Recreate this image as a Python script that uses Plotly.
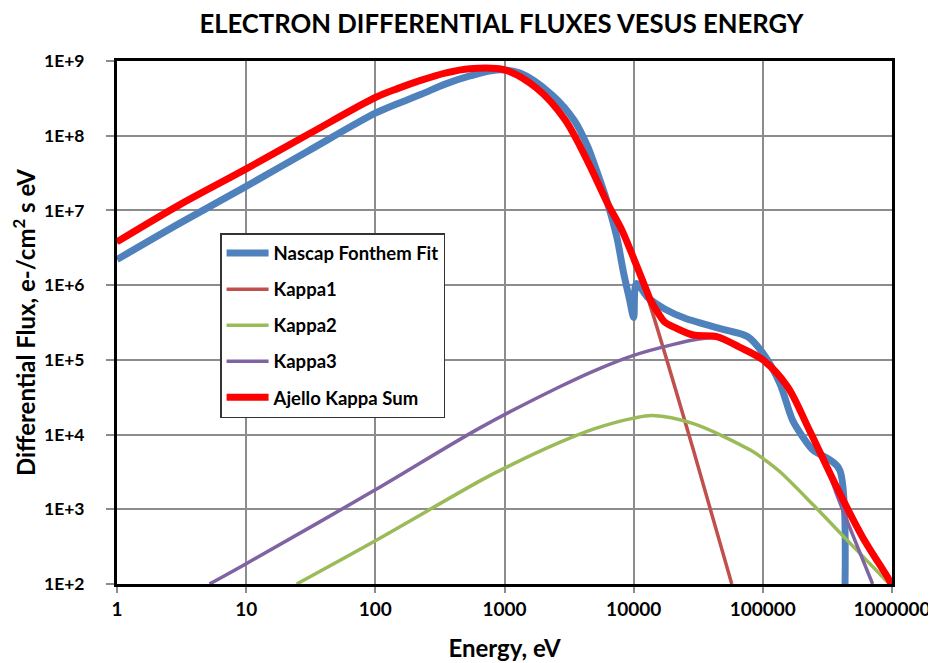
import plotly.graph_objects as go

# ---------------- data ----------------
nascap_E = [1, 3, 10, 30, 100, 150, 224, 347, 540, 870, 1320, 2340, 3470, 4370, 5000,
            6300, 7400, 8300, 9330, 10000, 10500, 12900, 17400, 25000, 52000, 76000,
            100000, 135000, 170000, 204000, 245000, 330000, 395000, 400000]
nascap_F = [2.2e6, 6.6e6, 2.1e7, 6.2e7, 2.0e8, 2.7e8, 3.55e8, 4.9e8, 6.3e8, 7.6e8,
            6.9e8, 3.5e8, 1.6e8, 7.4e7, 4.0e7, 1.23e7, 4.4e6, 1.55e6, 6.2e5, 3.7e5,
            1.05e6, 6.8e5, 4.8e5, 3.6e5, 2.5e5, 2.05e5, 1.23e5, 4.9e4, 1.55e4, 9.3e3,
            6.2e3, 4.6e3, 3.3e3, 1.0]

kappa1_E = [1, 3, 10, 31, 100, 150, 224, 347, 540, 1000, 1780, 2950, 4470, 6300, 8130,
            10200, 12900, 29000, 57500]
kappa1_F = [3.7e6, 1.15e7, 3.55e7, 1.05e8, 3.15e8, 4.2e8, 5.4e8, 6.8e8, 7.8e8, 7.5e8,
            4.2e8, 1.6e8, 4.2e7, 1.2e7, 5.3e6, 2.0e6, 6.6e5, 6.2e3, 100]

kappa2_E = [24.6, 100, 646, 1000, 2700, 5000, 10000, 14000, 29000, 80000, 100000,
            135000, 245000, 447000, 955000]
kappa2_F = [100, 380, 2400, 3550, 7900, 1.2e4, 1.66e4, 1.8e4, 1.4e4, 6.2e3, 4.8e3,
            3.2e3, 1.15e3, 390, 100]

kappa3_E = [5.2, 10, 100, 646, 2700, 5000, 10000, 20000, 32000, 44000, 66000, 100000,
            155000, 229000, 330000, 380000, 708000]
kappa3_F = [100, 187, 1820, 1.23e4, 4.4e4, 7.2e4, 1.15e5, 1.6e5, 1.9e5, 1.95e5, 1.45e5,
            9.6e4, 4.25e4, 1.12e4, 2.8e3, 1.45e3, 100]

sum_E = [1, 3, 10, 31, 100, 150, 224, 347, 540, 1000, 1780, 2950, 4470, 6300, 8130,
         10200, 12900, 13500, 15500, 17400, 20900, 29000, 44000, 66000, 100000, 155000,
         229000, 372000, 589000, 955000, 1000000]
sum_F = [3.8e6, 1.17e7, 3.6e7, 1.07e8, 3.25e8, 4.3e8, 5.5e8, 6.9e8, 7.9e8, 7.6e8,
         4.3e8, 1.62e8, 4.3e7, 1.23e7, 5.4e6, 2.1e6, 7.6e5, 6.3e5, 4.2e5, 3.2e5,
         2.7e5, 2.15e5, 2.05e5, 1.48e5, 1.0e5, 4.4e4, 1.15e4, 2.0e3, 430, 112, 95]

x_tickvals = [1, 10, 100, 1000, 10000, 100000, 1000000]
x_ticktext = ["1", "10", "100", "1000", "10000", "100000", "1000000"]
y_tickvals = [1e2, 1e3, 1e4, 1e5, 1e6, 1e7, 1e8, 1e9]
y_ticktext = ["1E+2", "1E+3", "1E+4", "1E+5", "1E+6", "1E+7", "1E+8", "1E+9"]

FONT = "Lato"

fig = go.Figure()

series = [
    ("Nascap Fonthem Fit", nascap_E, nascap_F, "#4F81BD", 7),
    ("Kappa1", kappa1_E, kappa1_F, "#C0504D", 3.5),
    ("Kappa2", kappa2_E, kappa2_F, "#9BBB59", 3.5),
    ("Kappa3", kappa3_E, kappa3_F, "#8064A2", 3.5),
    ("Ajello Kappa Sum", sum_E, sum_F, "#FF0000", 7),
]
for i, (name, xs, ys, col, w) in enumerate(series):
    fig.add_trace(go.Scatter(
        x=xs, y=ys, name=name, mode="lines",
        line=dict(color=col, width=w, shape="spline", smoothing=0.9),
        legendgroup=f"g{i}",
    ))

# the page body adds an 8px margin, so the figure is 928x655 to fill the 936x663 window
fig.update_layout(
    width=928, height=655,
    margin=dict(l=109, r=44, t=53, b=79, autoexpand=False),
    paper_bgcolor="white", plot_bgcolor="white",
    font=dict(family=FONT, color="black"),
    title=dict(text="<b>ELECTRON DIFFERENTIAL FLUXES VESUS ENERGY</b>",
               xref="paper", x=0.496, xanchor="center",
               yref="container", y=0.9756, yanchor="middle",
               font=dict(family=FONT, size=25.7, color="black")),
    legend=dict(x=0.133, y=0.671, xanchor="left", yanchor="top",
                bgcolor="white", bordercolor="#333333", borderwidth=1.5,
                font=dict(family=FONT, size=18.5, color="black", weight="bold"),
                itemwidth=42, tracegroupgap=9, traceorder="grouped"),
    showlegend=True,
)

fig.update_xaxes(
    type="log", range=[0, 6], automargin=False,
    tickvals=x_tickvals, ticktext=x_ticktext,
    tickfont=dict(family=FONT, size=19, color="black", weight="bold"),
    ticks="outside", ticklen=6, tickcolor="#8c8c8c", tickwidth=1.5,
    showgrid=True, gridcolor="#8c8c8c", gridwidth=1.5,
    showline=True, linecolor="black", linewidth=3, mirror=True,
    title=dict(text="<b>Energy, eV</b>", font=dict(family=FONT, size=24, color="black"),
               standoff=22),
)
fig.update_yaxes(
    type="log", range=[2, 9], automargin=False,
    tickvals=y_tickvals, ticktext=y_ticktext,
    tickfont=dict(family=FONT, size=17.5, color="black", weight="bold"),
    ticks="outside", ticklen=8, tickcolor="#8c8c8c", tickwidth=1.5,
    ticklabelstandoff=18,
    showgrid=True, gridcolor="#8c8c8c", gridwidth=1.5,
    showline=True, linecolor="black", linewidth=3, mirror=True,
    title=dict(text="<b>Differential Flux, e-/cm<sup>2</sup> s eV</b>",
               font=dict(family=FONT, size=24, color="black"), standoff=15),
)

fig.write_html("out.html")
